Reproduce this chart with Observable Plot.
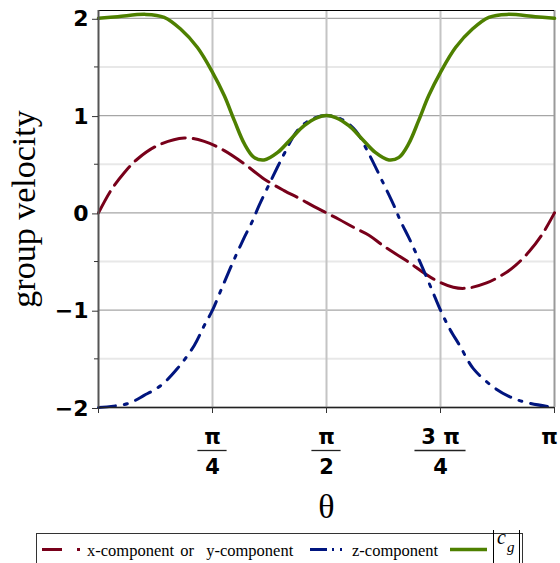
<!DOCTYPE html>
<html><head><meta charset="utf-8">
<script src="https://cdn.jsdelivr.net/npm/d3@7"></script>
<script src="https://cdn.jsdelivr.net/npm/@observablehq/plot@0.6"></script>
<style>
html,body{margin:0;padding:0;background:#fff;}
#chart{width:560px;height:563px;position:relative;overflow:hidden;}
#chart svg{display:block;}
#chart svg.legend{position:absolute;left:0;top:518px;}
</style></head><body><div id="chart"></div>
<script>
// θ values are given as fractions of π
const thetaGreen = [0, 0.042, 0.104, 0.144, 0.18, 0.217, 0.25, 0.276, 0.298, 0.32, 0.341, 0.363, 0.393, 0.422, 0.451, 0.48, 0.5,
  0.52, 0.549, 0.578, 0.607, 0.637, 0.659, 0.68, 0.702, 0.724, 0.75, 0.783, 0.82, 0.856, 0.896, 0.958, 1];
const cgMagnitude = [2.0, 2.016, 2.04, 2.01, 1.89, 1.70, 1.445, 1.204, 0.948, 0.709, 0.571, 0.544, 0.622, 0.76, 0.896, 0.98, 1.0,
  0.98, 0.896, 0.76, 0.622, 0.544, 0.571, 0.709, 0.948, 1.204, 1.445, 1.70, 1.89, 2.01, 2.04, 2.016, 2.0];

const thetaRed = [0, 0.027, 0.056, 0.0855, 0.129, 0.188, 0.232, 0.276, 0.32, 0.363, 0.407, 0.44, 0.473, 0.5,
  0.527, 0.56, 0.593, 0.624, 0.675, 0.734, 0.778, 0.807, 0.851, 0.895, 0.9145, 0.944, 0.973, 1];
const xComponent = [0, 0.229, 0.41, 0.554, 0.691, 0.77, 0.735, 0.64, 0.503, 0.349, 0.229, 0.15, 0.065, 0,
  -0.065, -0.15, -0.229, -0.336, -0.49, -0.678, -0.764, -0.774, -0.72, -0.61, -0.54, -0.40, -0.22, 0];

const thetaBlue = [0, 0.064, 0.1, 0.137, 0.173, 0.21, 0.232, 0.25, 0.268, 0.29, 0.305, 0.32, 0.338, 0.352, 0.378, 0.407, 0.436, 0.466, 0.5,
  0.534, 0.564, 0.593, 0.622, 0.648, 0.662, 0.68, 0.695, 0.71, 0.732, 0.75, 0.77, 0.792, 0.822, 0.866, 0.902, 0.939, 1];
const zComponent = [-2.0, -1.96, -1.876, -1.773, -1.60, -1.362, -1.157, -1.0, -0.80, -0.558, -0.40, -0.25, -0.08, 0.075, 0.33, 0.606, 0.845, 0.96, 1.0,
  0.96, 0.845, 0.606, 0.33, 0.075, -0.08, -0.25, -0.40, -0.558, -0.80, -1.0, -1.19, -1.362, -1.60, -1.79, -1.89, -1.95, -2.0];

const yMajor = [-2, -1, 0, 1, 2];
const yMinor = [-1.5, -0.5, 0.5, 1.5];
const xTicks = [0, 0.25, 0.5, 0.75, 1];
const xTickNum = ["", "π", "π", "3 π", "π"];
const xTickDen = ["", "4", "2", "4", ""];
const seriesNames = ["x-component or  y-component", "z-component"];

const RED = "#78001a", BLUE = "#00157f", GREEN = "#4e8000";
const yTop = 2.08;

const tickData = xTicks.map((v, i) => ({v, num: xTickNum[i], den: xTickDen[i]}));
const fracData = tickData.filter(d => d.den !== "");
const lastData = tickData.filter(d => d.den === "" && d.num !== "");
const half = s => (s.length > 1 ? 0.056 : 0.032);
const lblFont = {fontSize: 21, fontWeight: "bold", fontFamily: "DejaVu Sans", fill: "#000"};

const plot = Plot.plot({
  width: 560, height: 528,
  marginTop: 10, marginLeft: 98, marginRight: 6, marginBottom: 121,
  style: {fontFamily: "DejaVu Sans", background: "#fff"},
  x: {domain: [0, 1], axis: null},
  y: {domain: [-2, yTop], axis: null},
  marks: [
    Plot.ruleY(yMinor, {stroke: "#e8e8e8", strokeWidth: 2}),
    Plot.ruleY(yMajor, {stroke: "#a6a6a6", strokeWidth: 1.3}),
    Plot.ruleX(xTicks.slice(1, 4), {stroke: "#c4c4c4", strokeWidth: 2}),
    Plot.ruleX([1], {stroke: "#9a9a9a", strokeWidth: 2}),
    Plot.ruleY([yTop], {stroke: "#000", strokeWidth: 1.2}),
    Plot.line(thetaRed, {x: thetaRed, y: xComponent, stroke: RED, strokeWidth: 3, strokeDasharray: "24 8", curve: "catmull-rom"}),
    Plot.line(thetaBlue, {x: thetaBlue, y: zComponent, stroke: BLUE, strokeWidth: 3, strokeDasharray: "17 9 3 9", curve: "catmull-rom"}),
    Plot.line(thetaGreen, {x: thetaGreen, y: cgMagnitude, stroke: GREEN, strokeWidth: 3.5, curve: "catmull-rom"}),
    Plot.ruleX([0], {stroke: "#555", strokeWidth: 2}),
    Plot.ruleY([-2], {stroke: "#222", strokeWidth: 1.5}),
    Plot.axisY(yMajor, {tickSize: 6, tickPadding: 4, fontSize: 22, fontWeight: "bold", fontFamily: "DejaVu Sans",
      stroke: "#333", fill: "#000", dy: 1, label: null, tickFormat: d => d < 0 ? "\u2212" + Math.abs(d) : String(d)}),
    Plot.axisY(yMinor, {tickSize: 4, stroke: "#333", label: null, tickFormat: () => ""}),
    Plot.axisX(xTicks, {tickSize: 6, stroke: "#333", label: null, tickFormat: () => ""}),
    Plot.text(fracData, {x: "v", text: "num", frameAnchor: "bottom", lineAnchor: "bottom", dy: 36, ...lblFont}),
    Plot.text(lastData, {x: "v", text: "num", frameAnchor: "bottom", lineAnchor: "bottom", dy: 36, dx: -5, ...lblFont}),
    Plot.text(fracData, {x: "v", text: "den", frameAnchor: "bottom", lineAnchor: "bottom", dy: 66, ...lblFont}),
    Plot.ruleY(fracData, {y: () => -2, x1: d => d.v - half(d.num), x2: d => d.v + half(d.num), dy: 43, stroke: "#222", strokeWidth: 1.3}),
    Plot.text(["group velocity"], {frameAnchor: "left", textAnchor: "middle", rotate: -90, lineAnchor: "bottom", dx: -64,
      fontSize: 34, fontFamily: "Liberation Serif", fill: "#000"}),
    Plot.text(["θ"], {x: () => 0.5, frameAnchor: "bottom", lineAnchor: "bottom", dy: 110,
      fontSize: 34, fontFamily: "Liberation Serif", fill: "#000"})
  ]
});
document.getElementById("chart").appendChild(plot);

// Legend below the chart (its svg starts at y = 518)
const leg = d3.select("#chart").append("svg").attr("class", "legend").attr("width", 560).attr("height", 45)
  .style("font-family", "Liberation Serif");
leg.append("rect").attr("x", 36.5).attr("y", 15.5).attr("width", 486).attr("height", 40)
  .attr("fill", "none").attr("stroke", "#333").attr("stroke-width", 1);
leg.append("line").attr("x1", 42).attr("x2", 82).attr("y1", 31.5).attr("y2", 31.5)
  .attr("stroke", RED).attr("stroke-width", 3).attr("stroke-dasharray", "20 15 3 50");
leg.append("text").attr("x", 87).attr("y", 38).attr("font-size", 16.5).style("white-space", "pre")
  .attr("word-spacing", 2).text(seriesNames[0]);
leg.append("line").attr("x1", 310).attr("x2", 345).attr("y1", 31.5).attr("y2", 31.5)
  .attr("stroke", BLUE).attr("stroke-width", 3).attr("stroke-dasharray", "17 5 2 6 2 50");
leg.append("text").attr("x", 352).attr("y", 38).attr("font-size", 16.5).text(seriesNames[1]);
leg.append("line").attr("x1", 450).attr("x2", 487).attr("y1", 31.5).attr("y2", 31.5)
  .attr("stroke", GREEN).attr("stroke-width", 3.5);
leg.append("line").attr("x1", 493.5).attr("x2", 493.5).attr("y1", 12).attr("y2", 45).attr("stroke", "#000").attr("stroke-width", 1);
leg.append("line").attr("x1", 519.5).attr("x2", 519.5).attr("y1", 12).attr("y2", 45).attr("stroke", "#000").attr("stroke-width", 1);
leg.append("text").attr("x", 497).attr("y", 26).attr("font-size", 20).attr("font-style", "italic").text("c");
leg.append("text").attr("x", 507).attr("y", 34).attr("font-size", 15).attr("font-style", "italic").text("g");
</script></body></html>
